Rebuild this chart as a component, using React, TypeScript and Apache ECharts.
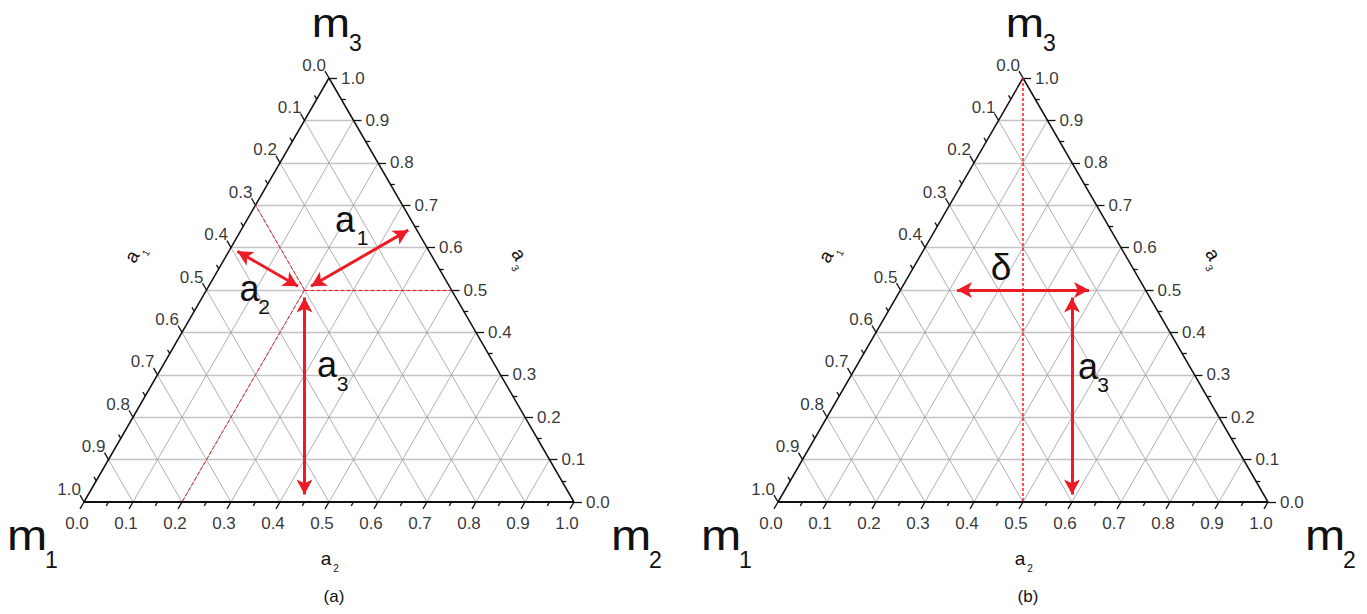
import React, { useEffect, useRef } from "react";
import * as echarts from "echarts";

// ---------- data ----------
const MAJOR_TICKS = [0, 0.1, 0.2, 0.3, 0.4, 0.5, 0.6, 0.7, 0.8, 0.9, 1.0];
const TICK_LABELS = ["0.0", "0.1", "0.2", "0.3", "0.4", "0.5", "0.6", "0.7", "0.8", "0.9", "1.0"];
const MINOR_TICKS = [0.05, 0.15, 0.25, 0.35, 0.45, 0.55, 0.65, 0.75, 0.85, 0.95];
const GRID_LEVELS = [0.1, 0.2, 0.3, 0.4, 0.5, 0.6, 0.7, 0.8, 0.9];

// panel (a): composition point [a1, a2, a3]
const POINT_A = [0.3, 0.2, 0.5];
// panel (b): delta arrow, a3 arrow and dashed median, as [a1, a2, a3]
const DELTA_START = [0.4, 0.1, 0.5];
const DELTA_END = [0.1, 0.4, 0.5];
const B_A3_TOP = [0.15, 0.35, 0.5];
const B_A3_FOOT = [0.4, 0.6, 0];
const B_DASH_TOP = [0, 0, 1];
const B_DASH_FOOT = [0.5, 0.5, 0];

// ---------- layout ----------
const GW = 490; // px per unit along x (triangle base)
const GH = 424; // px per unit along y (triangle height)
const GTOP = 78;
const PANEL_LEFT = [84, 778];
const X_MIN = -0.1;
const X_MAX = 1.1;
const Y_MIN = -0.2;
const Y_MAX = 1.1;
const FONT = "'Liberation Sans', Arial, Helvetica, sans-serif";
const RED = "#ed1c24";
const INK = "#111111";

type P = [number, number];
const toXY = (t: number[]): P => [t[1] + t[2] / 2, t[2]];
const shift = (p: P, dxPx: number, dyPx: number): P => [p[0] + dxPx / GW, p[1] - dyPx / GH];
const shorten = (a: P, b: P, px: number): P[] => {
  const dx = (b[0] - a[0]) * GW;
  const dy = (b[1] - a[1]) * GH;
  const len = Math.hypot(dx, dy);
  const ux = dx / len;
  const uy = dy / len;
  return [
    [a[0] + (ux * px) / GW, a[1] + (uy * px) / GH],
    [b[0] - (ux * px) / GW, b[1] - (uy * px) / GH],
  ];
};

const SIDES: Record<string, { pos: (v: number) => P; dir: [number, number] }> = {
  bottom: { pos: (v) => toXY([1 - v, v, 0]), dir: [-0.5, 0.866] },
  right: { pos: (v) => toXY([0, 1 - v, v]), dir: [1, 0] },
  left: { pos: (v) => toXY([v, 0, 1 - v]), dir: [-0.5, -0.866] },
};

function linesSeries(g: number, segs: P[][], lineStyle: any, z: number, extra: any = {}) {
  return {
    type: "lines",
    coordinateSystem: "cartesian2d",
    xAxisIndex: g,
    yAxisIndex: g,
    polyline: false,
    silent: true,
    clip: false,
    z,
    symbol: "none",
    lineStyle: { opacity: 1, ...lineStyle },
    data: segs.map((c) => ({ coords: c })),
    ...extra,
  };
}

function panelSeries(g: number) {
  const series: any[] = [];
  const horiz: P[][] = GRID_LEVELS.map((v) => [toXY([1 - v, 0, v]), toXY([0, 1 - v, v])]);
  const diag: P[][] = [];
  GRID_LEVELS.forEach((v) => {
    diag.push([toXY([1 - v, v, 0]), toXY([0, v, 1 - v])]);
    diag.push([toXY([v, 1 - v, 0]), toXY([v, 0, 1 - v])]);
  });
  series.push(linesSeries(g, horiz, { color: "#c4c4c4", width: 1.4 }, 1));
  series.push(linesSeries(g, diag, { color: "#9c9c9c", width: 0.8 }, 1));

  const A = toXY([1, 0, 0]);
  const B = toXY([0, 1, 0]);
  const C = toXY([0, 0, 1]);
  series.push(linesSeries(g, [[B, C], [C, A]], { color: INK, width: 1.5 }, 4));
  series.push(linesSeries(g, [[A, B]], { color: INK, width: 2 }, 4));

  const ticks: P[][] = [];
  Object.keys(SIDES).forEach((k) => {
    const s = SIDES[k];
    MAJOR_TICKS.forEach((v) => {
      const p = s.pos(v);
      ticks.push([p, shift(p, s.dir[0] * 8, s.dir[1] * 8)]);
    });
    MINOR_TICKS.forEach((v) => {
      const p = s.pos(v);
      ticks.push([p, shift(p, s.dir[0] * 4.5, s.dir[1] * 4.5)]);
    });
  });
  series.push(linesSeries(g, ticks, { color: INK, width: 1.3 }, 4));

  const labelSeries = (data: any[], align: string) => ({
    type: "scatter",
    xAxisIndex: g,
    yAxisIndex: g,
    symbolSize: 1,
    silent: true,
    clip: false,
    z: 5,
    itemStyle: { color: "transparent" },
    label: {
      show: true,
      position: "inside",
      formatter: "{b}",
      fontSize: 17,
      fontFamily: FONT,
      color: "#000",
      textBorderWidth: 0,
      align,
      verticalAlign: "middle",
    },
    data,
  });
  series.push(
    labelSeries(
      MAJOR_TICKS.map((v, i) => ({ name: TICK_LABELS[i], value: shift(SIDES.bottom.pos(v), -7, 21) })),
      "center"
    )
  );
  series.push(
    labelSeries(
      MAJOR_TICKS.map((v, i) => ({ name: TICK_LABELS[i], value: shift(SIDES.right.pos(v), 12, 0) })),
      "left"
    )
  );
  series.push(
    labelSeries(
      MAJOR_TICKS.map((v, i) => ({ name: TICK_LABELS[i], value: shift(SIDES.left.pos(v), -3, -13) })),
      "right"
    )
  );
  return series;
}

const ARROW_LEN = 15;
const arrowStyle = { color: RED, width: 3 };
const arrowExtra = {
  symbol: ["arrow", "arrow"],
  symbolSize: [
    [12, ARROW_LEN],
    [12, ARROW_LEN],
  ],
};

function panelASeries() {
  const g = 0;
  const [a1, a2, a3] = POINT_A;
  const P0 = toXY(POINT_A);
  const foot1 = toXY([0, a2 + a1 / 2, a3 + a1 / 2]);
  const foot2 = toXY([a1 + a2 / 2, 0, a3 + a2 / 2]);
  const foot3 = toXY([a1 + a3 / 2, a2 + a3 / 2, 0]);
  const dashed: P[][] = [
    [P0, toXY([a1, 0, 1 - a1])],
    [P0, toXY([1 - a2, a2, 0])],
    [P0, toXY([0, 1 - a3, a3])],
  ];
  const h = ARROW_LEN / 2;
  return [
    linesSeries(g, dashed, { color: RED, width: 1, type: [4, 2] }, 6),
    linesSeries(g, [shorten(P0, foot1, h), shorten(P0, foot2, h), shorten(P0, foot3, h)], arrowStyle, 8, arrowExtra),
  ];
}

function panelBSeries() {
  const g = 1;
  const h = ARROW_LEN / 2;
  return [
    linesSeries(g, [[toXY(B_DASH_TOP), toXY(B_DASH_FOOT)]], { color: RED, width: 1.5, type: [3, 2] }, 6),
    linesSeries(
      g,
      [shorten(toXY(DELTA_START), toXY(DELTA_END), h), shorten(toXY(B_A3_TOP), toXY(B_A3_FOOT), h)],
      arrowStyle,
      8,
      arrowExtra
    ),
  ];
}

function T(text: string, x: number, y: number, fs: number, extra: any = {}) {
  return {
    type: "text",
    x,
    y,
    silent: true,
    z: 100,
    ...extra,
    style: { text, fontSize: fs, fontFamily: FONT, fill: INK, align: "center", verticalAlign: "middle" },
  };
}

function axisTitle(x: number, y: number, rotation: number, sub: string) {
  return {
    type: "group",
    x,
    y,
    rotation,
    silent: true,
    children: [T("a", 0, -1.3, 19), T(sub, 10, 9, 10)],
  };
}

function buildGraphic() {
  const els: any[] = [];
  const off = PANEL_LEFT[1] - PANEL_LEFT[0];
  [0, off].forEach((o) => {
    const mScale = { scaleX: 1.15 };
    els.push(T("m", 331 + o, 23.5, 40, mScale), T("3", 355.5 + o, 43.2, 23));
    els.push(T("m", 27 + o, 536, 42, mScale), T("1", 51.5 + o, 560, 23));
    els.push(T("m", 631 + o, 536, 42, mScale), T("2", 655.5 + o, 560, 23));
    els.push(T("a", 326 + o, 558.9, 19), T("2", 336 + o, 568.9, 10));
    els.push(axisTitle(133 + o, 257, Math.PI / 3, "1"));
    els.push(axisTitle(518 + o, 255, -Math.PI / 3, "3"));
  });
  els.push(
    T("a", 345, 219.8, 36),
    T("1", 362.5, 237.9, 21),
    T("a", 249.5, 288.8, 36),
    T("2", 264, 306.9, 21),
    T("a", 327, 364.8, 36),
    T("3", 342.5, 383.9, 21),
    T("(a)", 334, 596, 17)
  );
  els.push(T("δ", 1001, 267.4, 37), T("a", 1088, 366.8, 36), T("3", 1103, 384.9, 21), T("(b)", 1028, 596, 17));
  return els;
}

export default function App() {
  const ref = useRef<HTMLDivElement>(null);
  useEffect(() => {
    if (!ref.current) return;
    const chart = echarts.init(ref.current, undefined, { renderer: "svg" });
    const grids = PANEL_LEFT.map((l) => ({
      left: l + X_MIN * GW,
      top: GTOP - (Y_MAX - 1) * GH,
      width: (X_MAX - X_MIN) * GW,
      height: (Y_MAX - Y_MIN) * GH,
      containLabel: false,
    }));
    const xAxis = (g: number) => ({ type: "value", gridIndex: g, min: X_MIN, max: X_MAX, show: false });
    const yAxis = (g: number) => ({ type: "value", gridIndex: g, min: Y_MIN, max: Y_MAX, show: false });
    chart.setOption({
      animation: false,
      backgroundColor: "#ffffff",
      grid: grids,
      xAxis: [xAxis(0), xAxis(1)],
      yAxis: [yAxis(0), yAxis(1)],
      series: [...panelSeries(0), ...panelSeries(1), ...panelASeries(), ...panelBSeries()],
      graphic: { elements: buildGraphic() },
    });
    return () => chart.dispose();
  }, []);
  return (
    <div
      ref={ref}
      style={{ position: "absolute", left: 0, top: 0, width: 1367, height: 614, background: "#fff" }}
    />
  );
}
